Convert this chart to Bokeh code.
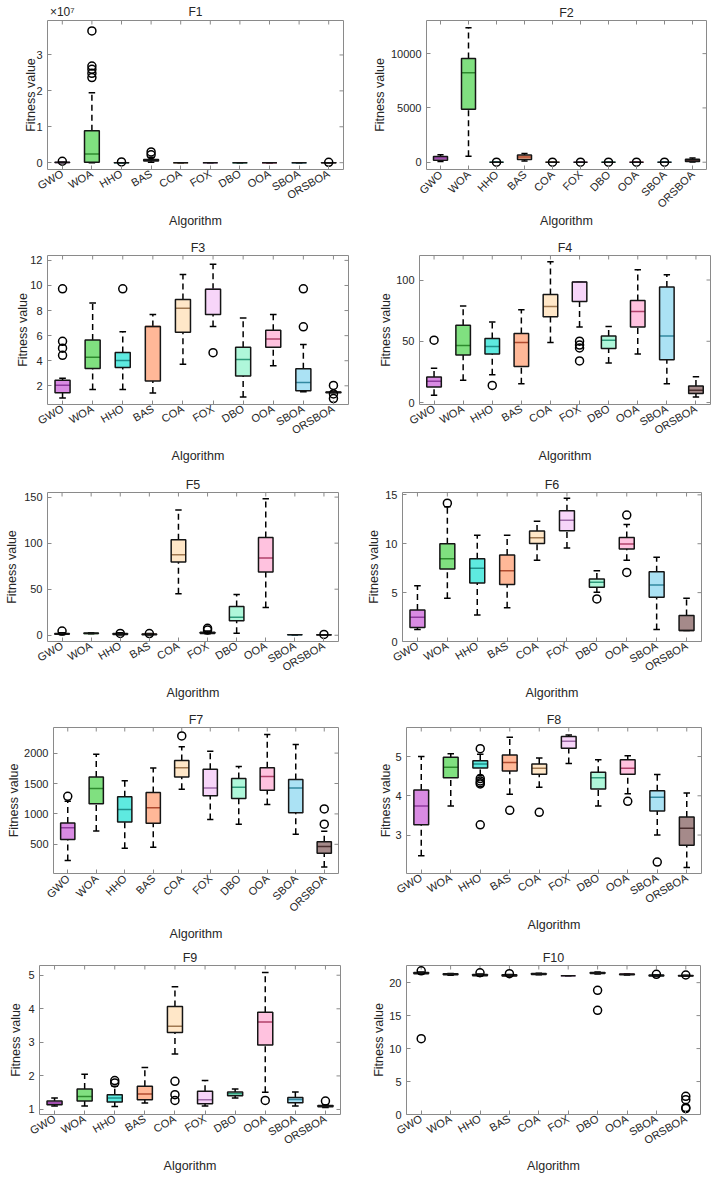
from math import pi

import numpy as np
from bokeh.embed import file_html
from bokeh.layouts import column, row
from bokeh.models import ColumnDataSource, FixedTicker, LinearAxis, Range1d
from bokeh.plotting import figure
from bokeh.resources import INLINE

# ---------------------------------------------------------------- data
ALGORITHMS = ["GWO", "WOA", "HHO", "BAS", "COA", "FOX", "DBO", "OOA", "SBOA", "ORSBOA"]

BOX_FILL = ["#D98BE3", "#80E080", "#5EEAE0", "#FFB898", "#FFE7C8",
            "#F7D5F9", "#AFF7DA", "#FFC2DF", "#ABE2F4", "#A58A8A"]
MEDIAN_COLOR = ["#8E3A9E", "#2E8B2E", "#1E8F8A", "#B04A2E", "#A07850",
                "#9E6AA8", "#2E9A7A", "#B0406A", "#3288A0", "#4A2E2E"]

# Box statistics for each benchmark function (one entry per algorithm):
# lower whisker, first quartile, median, third quartile, upper whisker, outliers
F1 = dict(
    low=[0, 0, 0, 1.5e5, 0, 0, 0, 0, 0, 0],
    q1=[2e4, 1.5e5, 0, 4.5e5, 0, 0, 0, 0, 0, 0],
    med=[5e4, 2.4e6, 1e3, 7.0e5, 0, 0, 0, 0, 0, 0],
    q3=[1e5, 8.9e6, 5e3, 9.0e5, 0, 0, 0, 0, 0, 1e3],
    high=[2e5, 1.95e7, 1e4, 1.5e6, 0, 0, 0, 0, 0, 5e3],
    out=[[4e5], [3.67e7, 2.69e7, 2.60e7, 2.49e7, 2.37e7], [2e5], [3.0e6, 2.2e6],
         [], [], [], [], [], [1e5]],
)
F2 = dict(
    low=[60, 550, 0, 120, 0, 0, 0, 0, 0, 10],
    q1=[190, 4880, 0, 250, 0, 0, 0, 0, 0, 60],
    med=[380, 8230, 0, 490, 0, 0, 0, 0, 0, 150],
    q3=[520, 9540, 0, 670, 0, 0, 0, 0, 0, 280],
    high=[690, 12380, 0, 800, 0, 0, 0, 0, 0, 380],
    out=[[], [], [1], [], [1], [1], [1], [1], [1], []],
)
F3 = dict(
    low=[1.03, 1.71, 1.71, 1.42, 3.72, 6.73, 1.11, 3.59, 1.53, 1.45],
    q1=[1.45, 3.38, 3.46, 2.39, 6.28, 7.69, 2.78, 5.08, 1.61, 1.45],
    med=[2.05, 4.27, 4.01, 6.73, 8.19, 9.70, 4.09, 5.73, 2.26, 1.48],
    q3=[2.44, 5.66, 4.66, 6.73, 8.89, 9.70, 5.08, 6.44, 3.36, 1.50],
    high=[2.60, 8.60, 6.31, 7.69, 10.88, 11.69, 7.40, 7.69, 5.29, 1.52],
    out=[[9.73, 5.55, 5.00, 4.43], [], [9.73], [], [], [4.64], [], [],
         [9.73, 6.70], [2.03, 1.35, 0.98]],
)
F4 = dict(
    low=[5.9, 18.1, 22.6, 15.4, 49.1, 61.7, 32.3, 39.6, 15.4, 4.6],
    q1=[12.7, 38.8, 39.6, 29.4, 70.1, 82.5, 44.2, 61.7, 35.0, 7.3],
    med=[17.3, 46.6, 45.8, 49.1, 78.4, 98.4, 50.9, 74.4, 54.4, 10.0],
    q3=[20.8, 63.1, 52.3, 56.3, 88.1, 98.4, 54.4, 83.3, 94.3, 13.5],
    high=[28.0, 78.7, 65.8, 75.7, 114.8, 98.4, 62.0, 108.4, 104.3, 21.0],
    out=[[50.9], [], [14.0], [], [], [50.1, 46.9, 44.5, 34.0], [], [], [], []],
)
F5 = dict(
    low=[0.5, 1.5, 0.3, 0.2, 45.0, 1.5, 2.2, 30.2, 0.3, 0.1],
    q1=[1.0, 1.8, 0.9, 0.6, 79.5, 2.0, 15.8, 68.7, 0.4, 0.3],
    med=[1.5, 2.0, 1.4, 1.0, 87.4, 2.5, 19.4, 83.8, 0.5, 0.5],
    q3=[2.0, 2.3, 1.9, 1.4, 103.6, 3.2, 31.3, 106.1, 0.55, 0.6],
    high=[2.8, 2.6, 2.6, 2.0, 136.0, 4.5, 44.2, 148.2, 0.6, 0.6],
    out=[[4.5], [], [2.0], [1.8], [], [7.6, 5.8], [], [], [], [0.9]],
)
F6 = dict(
    low=[1.22, 4.42, 2.72, 3.44, 8.30, 9.56, 5.03, 8.30, 1.22, 1.12],
    q1=[1.43, 7.41, 5.99, 5.82, 10.03, 11.33, 5.54, 9.46, 4.52, 1.12],
    med=[2.48, 8.47, 7.48, 7.24, 10.61, 12.41, 6.05, 9.97, 5.78, 1.12],
    q3=[3.23, 10.00, 8.47, 8.84, 11.29, 13.37, 6.39, 10.65, 7.14, 2.65],
    high=[5.71, 13.78, 10.88, 10.88, 12.31, 14.66, 7.24, 11.97, 8.61, 4.42],
    out=[[], [14.15], [], [], [], [], [4.35], [12.93, 7.07], [], []],
)
F7 = dict(
    low=[233, 719, 436, 452, 1407, 906, 831, 1156, 665, 126],
    q1=[580, 1167, 868, 847, 1605, 1300, 1252, 1391, 1018, 351],
    med=[772, 1418, 1071, 1103, 1759, 1428, 1439, 1615, 1428, 463],
    q3=[852, 1605, 1284, 1354, 1877, 1733, 1583, 1759, 1567, 543],
    high=[1210, 1983, 1546, 1754, 2106, 2032, 1781, 2304, 2143, 713],
    out=[[1290], [], [], [], [2282], [], [], [], [], [1082, 831]],
)
F8 = dict(
    low=[2.47, 3.74, 4.52, 4.04, 4.22, 4.82, 3.74, 4.05, 3.00, 2.17],
    q1=[3.26, 4.46, 4.71, 4.63, 4.55, 5.21, 4.17, 4.55, 3.61, 2.74],
    med=[3.74, 4.73, 4.81, 4.85, 4.70, 5.39, 4.46, 4.70, 3.96, 3.17],
    q3=[4.15, 4.98, 4.89, 5.04, 4.81, 5.51, 4.60, 4.92, 4.13, 3.46],
    high=[5.00, 5.07, 5.06, 5.49, 4.96, 5.55, 4.92, 5.02, 4.54, 4.07],
    out=[[], [], [5.20, 4.44, 4.38, 4.33, 4.30, 3.26], [3.63], [3.58], [], [],
         [3.86], [2.31], []],
)
F9 = dict(
    low=[1.10, 1.10, 1.09, 1.19, 2.65, 1.10, 1.34, 1.51, 1.10, 1.06],
    q1=[1.14, 1.25, 1.22, 1.29, 3.29, 1.17, 1.41, 2.92, 1.20, 1.08],
    med=[1.19, 1.39, 1.34, 1.46, 3.48, 1.29, 1.47, 3.61, 1.30, 1.10],
    q3=[1.25, 1.61, 1.44, 1.69, 4.07, 1.54, 1.52, 3.90, 1.36, 1.12],
    high=[1.34, 2.05, 1.69, 2.25, 4.66, 1.86, 1.61, 5.08, 1.52, 1.13],
    out=[[], [], [1.86, 1.79], [], [1.84, 1.44, 1.27], [], [], [1.27], [], [1.25]],
)
F10 = dict(
    low=[21.30, 21.12, 21.02, 20.98, 21.18, 21.06, 21.32, 21.15, 20.98, 20.98],
    q1=[21.35, 21.18, 21.06, 21.02, 21.22, 21.06, 21.38, 21.20, 21.02, 21.02],
    med=[21.45, 21.26, 21.16, 21.10, 21.30, 21.06, 21.46, 21.26, 21.10, 21.06],
    q3=[21.55, 21.33, 21.24, 21.18, 21.38, 21.06, 21.54, 21.32, 21.16, 21.10],
    high=[21.60, 21.38, 21.30, 21.22, 21.42, 21.06, 21.60, 21.36, 21.20, 21.14],
    out=[[21.80, 11.50], [], [21.50], [21.36], [], [], [18.84, 15.80], [],
         [21.26], [21.16, 2.75, 2.25, 1.05, 0.90]],
)

# ---------------------------------------------------------------- styling
FONT = "Liberation Sans"
TEXT_COLOR = "#262626"
FRAME_COLOR = "#8a8a8a"
BOX_W = 0.5
CAP_W = 0.22
TICK_LEN = 8  # dash markers centred on the frame edge -> 4 px visible inside

# per-panel layout: title, stats, y-range, y-ticks, y-scale exponent,
# x-label rotation, (left, right, top, bottom) borders, (width, height),
# left padding, x-axis title standoff, y-axis title standoff
PANELS = [
    ("F1", F1, (-0.19e7, 3.96e7), [0, 1e7, 2e7, 3e7], 7, pi / 6, (47, 15, 17, 67), (358, 236), 13, 5, -5),
    ("F2", F2, (-671, 13049), [0, 5000, 10000], 0, pi / 4, (68, 11, 20, 66), (359, 236), 9, -3, 1),
    ("F3", F3, (0.51, 12.39), [2, 4, 6, 8, 10, 12], 0, pi / 6, (47, 10, 17, 68), (358, 236), 6, 5, -3),
    ("F4", F4, (-1.6, 120), [0, 50, 100], 0, pi / 6, (61, 7, 19, 67), (359, 236), 12, 5, 0),
    ("F5", F5, (-6.8, 155), [0, 50, 100, 150], 0, pi / 6, (47, 20, 19, 67), (358, 236), 2, 5, 2),
    ("F6", F6, (0, 15.24), [0, 5, 10, 15], 0, pi / 6, (44, 16, 20, 67), (359, 236), 3, 5, 1),
    ("F7", F7, (20, 2421), [500, 1000, 1500, 2000], 0, pi / 4, (53, 20, 19, 67), (358, 236), 4, 6, 0),
    ("F8", F8, (2.02, 5.74), [3, 4, 5], 0, pi / 6, (48, 16, 19, 67), (359, 236), 13, 5, -1),
    ("F9", F9, (0.85, 5.29), [1, 2, 3, 4, 5], 0, pi / 6, (39, 18, 19, 64), (358, 234), 2, 5, 2),
    ("F10", F10, (0, 22.6), [0, 5, 10, 15, 20], 0, pi / 6, (48, 17, 21, 64), (359, 234), 4, 5, 0),
]

SUPERSCRIPT = str.maketrans("0123456789", "\u2070\u00b9\u00b2\u00b3\u2074\u2075\u2076\u2077\u2078\u2079")


def style_axis(ax, label_size="11px"):
    ax.axis_line_color = None
    ax.major_tick_in = 4
    ax.major_tick_out = 0
    ax.major_tick_line_color = FRAME_COLOR
    ax.minor_tick_line_color = None
    ax.major_label_text_font = FONT
    ax.major_label_text_font_size = label_size
    ax.major_label_text_color = TEXT_COLOR
    ax.axis_label_text_font = FONT
    ax.axis_label_text_font_size = "12.5px"
    ax.axis_label_text_font_style = "normal"
    ax.axis_label_text_color = TEXT_COLOR


def make_panel(title, stats, yr, yticks, expo, rot, borders, size, pad, xlab_standoff, ylab_standoff):
    w, h = size
    bl, br, bt, bb = borders
    n = len(ALGORITHMS)
    xr = (0.5, n + 0.5)
    p = figure(width=w - pad, height=h, output_backend="svg", toolbar_location=None,
               x_range=Range1d(*xr), y_range=Range1d(*yr),
               title=None if expo else title,
               min_border_left=bl - pad, min_border_right=br,
               min_border_top=bt, min_border_bottom=bb)
    p.margin = (0, 0, 0, pad)
    p.background_fill_color = "white"
    p.border_fill_color = "white"
    p.outline_line_color = FRAME_COLOR
    p.outline_line_width = 1
    p.grid.visible = False

    if not expo:
        p.title.align = "center"
        p.title.text_font = FONT
        p.title.text_font_size = "12.5px"
        p.title.text_font_style = "normal"
        p.title.text_color = TEXT_COLOR
        p.title.standoff = 2

    xt = list(range(1, n + 1))
    for ax in (p.xaxis[0], p.yaxis[0]):
        style_axis(ax)

    p.xaxis.ticker = FixedTicker(ticks=xt)
    p.xaxis.major_label_overrides = {i + 1: a for i, a in enumerate(ALGORITHMS)}
    p.xaxis.major_label_orientation = rot
    p.xaxis.major_label_standoff = 3
    p.xaxis.axis_label = "Algorithm"
    p.xaxis.axis_label_standoff = xlab_standoff

    p.yaxis.ticker = FixedTicker(ticks=yticks)
    p.yaxis.major_label_standoff = 5
    p.yaxis.axis_label = "Fitness value"
    p.yaxis.axis_label_standoff = ylab_standoff

    if expo:
        # scaled tick labels, with the exponent and the title on one line above the frame
        scale = 10 ** expo
        p.yaxis.major_label_overrides = {t: f"{t / scale:g}" for t in yticks}
        head_pos = [xt[0], (xr[0] + xr[1]) / 2]
        head = LinearAxis(ticker=FixedTicker(ticks=head_pos),
                          major_label_overrides={head_pos[0]: "\u00d710" + str(expo).translate(SUPERSCRIPT),
                                                 head_pos[1]: title},
                          major_label_standoff=2)
        style_axis(head, "12px")
        head.major_tick_line_color = None
        p.add_layout(head, "above")

    # inward tick marks on the right and top edges of the frame
    p.scatter(x=[xr[1]] * len(yticks), y=yticks, marker="dash", size=TICK_LEN,
              line_color=FRAME_COLOR, line_width=1)
    p.scatter(x=xt, y=[yr[1]] * n, marker="dash", angle=pi / 2, size=TICK_LEN,
              line_color=FRAME_COLOR, line_width=1)

    x = np.arange(1, n + 1, dtype=float)
    src = ColumnDataSource(dict(
        x=x, xl=x - BOX_W / 2, xr=x + BOX_W / 2, cl=x - CAP_W / 2, cr=x + CAP_W / 2,
        low=stats["low"], q1=stats["q1"], med=stats["med"], q3=stats["q3"],
        high=stats["high"], fill=BOX_FILL, mcol=MEDIAN_COLOR,
    ))

    # whiskers (dashed) with solid caps
    p.segment(x0="x", y0="q3", x1="x", y1="high", source=src,
              line_color="black", line_width=1.5, line_dash="6 4")
    p.segment(x0="x", y0="low", x1="x", y1="q1", source=src,
              line_color="black", line_width=1.5, line_dash="6 4")
    p.segment(x0="cl", y0="high", x1="cr", y1="high", source=src,
              line_color="black", line_width=1.5)
    p.segment(x0="cl", y0="low", x1="cr", y1="low", source=src,
              line_color="black", line_width=1.5)

    # interquartile boxes: fill, then median, then the black outline on top
    p.vbar(x="x", width=BOX_W, bottom="q1", top="q3", source=src,
           fill_color="fill", line_color=None)
    p.segment(x0="xl", y0="med", x1="xr", y1="med", source=src,
              line_color="mcol", line_width=1.5)
    p.vbar(x="x", width=BOX_W, bottom="q1", top="q3", source=src,
           fill_color=None, line_color="#151515", line_width=1.5)

    # outliers
    ox = [i + 1 for i, o in enumerate(stats["out"]) for _ in o]
    oy = [v for o in stats["out"] for v in o]
    p.scatter(ox, oy, marker="circle", size=8, fill_color=None,
              line_color="black", line_width=1.5)
    return p


figs = [make_panel(*cfg) for cfg in PANELS]
page = column(*[row(figs[i], figs[i + 1]) for i in range(0, len(figs), 2)])

open("out.html", "w").write(file_html(page, INLINE))
